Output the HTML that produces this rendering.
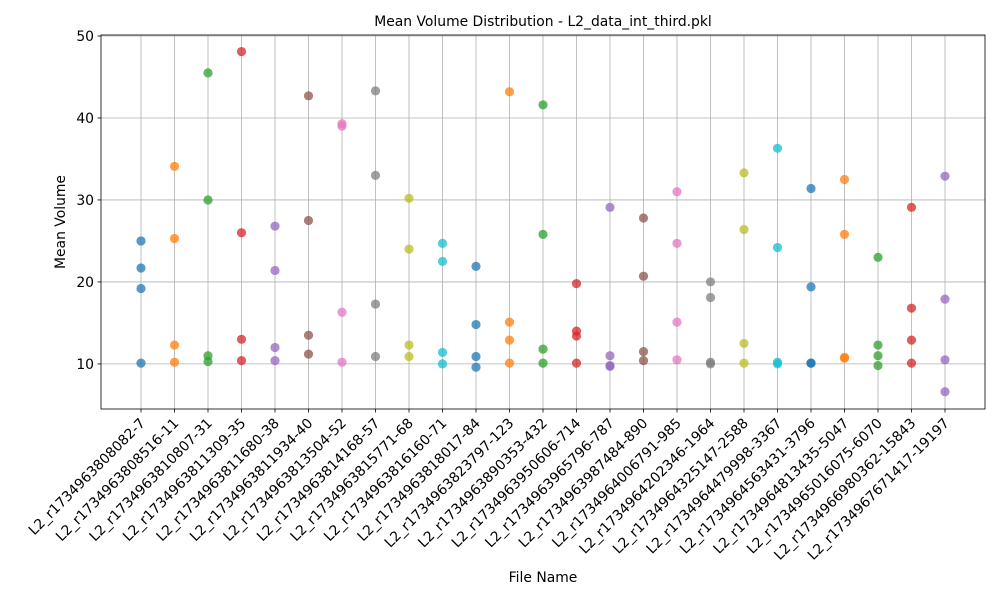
<!DOCTYPE html>
<html><head><meta charset="utf-8"><style>
body{margin:0;background:#fff;width:1000px;height:600px;overflow:hidden}
svg text{font-family:"DejaVu Sans","Liberation Sans",sans-serif;fill:#000}
</style></head><body>
<svg id="chart" width="1000" height="600" xmlns="http://www.w3.org/2000/svg">
<rect width="1000" height="600" fill="#fff"/>
<text x="543" y="26" font-size="13.9" text-anchor="middle">Mean Volume Distribution - L2_data_int_third.pkl</text>
<g id="grid"></g><g id="marks"></g><g id="axes"></g>
<text x="543" y="582" font-size="13.9" text-anchor="middle">File Name</text>
<text transform="translate(65,222) rotate(-90)" font-size="13.9" text-anchor="middle">Mean Volume</text>
</svg>
<script>
const categories=["L2_r1734963808082-7","L2_r1734963808516-11","L2_r1734963810807-31","L2_r1734963811309-35","L2_r1734963811680-38","L2_r1734963811934-40","L2_r1734963813504-52","L2_r1734963814168-57","L2_r1734963815771-68","L2_r1734963816160-71","L2_r1734963818017-84","L2_r1734963823797-123","L2_r1734963890353-432","L2_r1734963950606-714","L2_r1734963965796-787","L2_r1734963987484-890","L2_r1734964006791-985","L2_r1734964202346-1964","L2_r1734964325147-2588","L2_r1734964479998-3367","L2_r1734964563431-3796","L2_r1734964813435-5047","L2_r1734965016075-6070","L2_r1734966980362-15843","L2_r1734967671417-19197"];
const seriesA=[25,34.1,45.5,48.1,26.8,42.7,39.3,43.3,30.2,24.7,21.9,43.2,41.6,19.8,29.1,27.8,31,20,33.3,36.3,31.4,32.5,23,29.1,32.9];
const seriesB=[21.7,25.3,30,26,21.4,27.5,39,33,24,22.5,14.8,15.1,25.8,14,11,20.7,24.7,18.1,26.4,24.2,19.4,25.8,12.3,16.8,17.9];
const seriesC=[19.2,12.3,11,13,12,13.5,16.3,17.3,12.3,11.4,10.9,12.9,11.8,13.4,9.7,11.5,15.1,10.2,12.5,10.2,10.1,10.8,11,12.9,10.5];
const seriesD=[10.1,10.2,10.3,10.4,10.4,11.2,10.2,10.9,10.9,10,9.6,10.1,10.1,10.1,9.8,10.4,10.5,10,10.1,10,10.1,10.7,9.8,10.1,6.6];
const yTicks=[10,20,30,40,50];
const colors=["#1f77b4","#ff7f0e","#2ca02c","#d62728","#9467bd","#8c564b","#e377c2","#7f7f7f","#bcbd22","#17becf"];
const L=101,R=985,T=35,B=409,ymin=4.5,ymax=50.12;
const xs=i=>141+i*(945-141)/(categories.length-1);
const y=v=>B-(v-ymin)/(ymax-ymin)*(B-T);
const NS="http://www.w3.org/2000/svg";
function mk(t,a,p){const e=document.createElementNS(NS,t);for(const k in a)e.setAttribute(k,a[k]);p.appendChild(e);return e;}
const g=document.getElementById('grid'),m=document.getElementById('marks'),ax=document.getElementById('axes');
categories.forEach((c,i)=>{
 const gl=mk('line',{x1:xs(i),x2:xs(i),y1:T,y2:B,stroke:'#b0b0b0','stroke-width':0.8},g);
 
 
 const tk=mk('line',{x1:xs(i),x2:xs(i),y1:B,y2:B+3.5,stroke:'#000','stroke-width':0.8},ax);
 
 
 const tx=mk('text',{'font-size':13.9,'text-anchor':'end',transform:`translate(${xs(i)+5},${B+15}) rotate(-45)`},ax);
 tx.textContent=c;
 
 
});
yTicks.forEach(v=>{
 const gl=mk('line',{x1:L,x2:R,y1:y(v),y2:y(v),stroke:'#b0b0b0','stroke-width':0.8},g);
 
 
 const tk=mk('line',{x1:L-3.5,x2:L,y1:y(v),y2:y(v),stroke:'#000','stroke-width':0.8},ax);
 
 
 const tx=mk('text',{x:L-7,y:y(v)+5,'font-size':13.9,'text-anchor':'end'},ax);
 tx.textContent=v;
 
 
});
const fr=mk('rect',{x:L,y:T,width:R-L,height:B-T,fill:'none',stroke:'#000','stroke-width':0.8},ax);


[seriesA,seriesB,seriesC,seriesD].forEach(s=>{
 s.forEach((v,i)=>{
  const c=mk('circle',{cx:xs(i),cy:y(v),r:4.6,fill:colors[i%10],'fill-opacity':0.75},m);
  
  
 });
});
</script>
</body></html>
